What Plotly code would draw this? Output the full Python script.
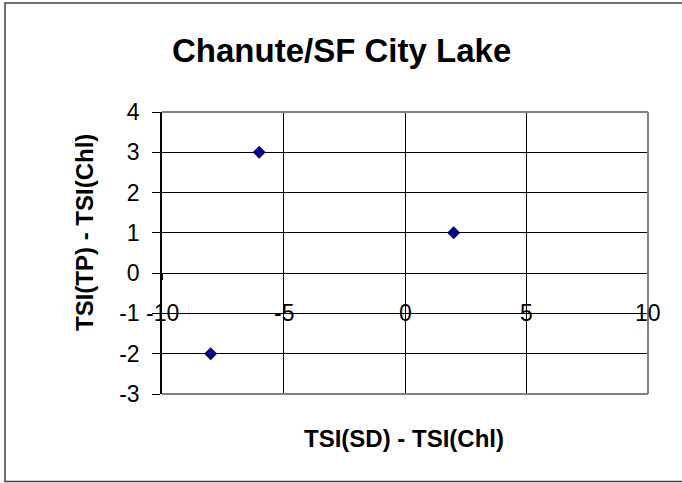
import plotly.graph_objects as go

# Data
x_vals = [-8, -6, 2]
y_vals = [-2, 3, 1]
x_ticks = [-10, -5, 0, 5, 10]
y_ticks = [-3, -2, -1, 0, 1, 2, 3, 4]
title_text = "Chanute/SF City Lake"
x_title = "TSI(SD) - TSI(Chl)"
y_title = "TSI(TP) - TSI(Chl)"
x_label_row = -1  # y value at which x tick labels are printed

W, H = 682, 483
L, R, T, B = 162, 34, 112, 89
PW, PH = W - L - R, H - T - B


def px(xp):
    return (xp - L) / PW


def py(yp):
    return (H - B - yp) / PH


FONT = "Liberation Sans, Arial, sans-serif"
TICK_SIZE = 23

fig = go.Figure()
fig.add_trace(go.Scatter(
    x=x_vals, y=y_vals, mode="markers",
    marker=dict(symbol="diamond", size=10, color="#000080", line=dict(width=0)),
    showlegend=False, hoverinfo="x+y",
))

fig.update_layout(
    width=W, height=H,
    margin=dict(l=L, r=R, t=T, b=B),
    paper_bgcolor="white", plot_bgcolor="white",
    font=dict(family=FONT, color="black"),
    showlegend=False,
    xaxis=dict(
        range=[-10, 10], tickvals=x_ticks, showticklabels=False,
        showgrid=True, gridcolor="black", gridwidth=1,
        zeroline=False, showline=True, linecolor="black", linewidth=1,
        ticks="outside", ticklen=6, tickcolor="black",
        anchor="free", position=3 / 7,
    ),
    yaxis=dict(
        range=[-3, 4], tickvals=y_ticks, ticktext=[str(v) for v in y_ticks],
        showgrid=True, gridcolor="black", gridwidth=1,
        zeroline=False, showline=True, linecolor="black", linewidth=1.5,
        ticks="outside", ticklen=8, tickcolor="black",
        ticklabelstandoff=8,
        tickfont=dict(size=TICK_SIZE, family=FONT, color="black"),
    ),
)

annotations = []
for v in x_ticks:
    annotations.append(dict(
        x=v, y=x_label_row, xref="x", yref="y", text=str(v), showarrow=False,
        xanchor="center", yanchor="middle",
        font=dict(size=TICK_SIZE, family=FONT, color="black"),
    ))
annotations.append(dict(
    x=px(341), y=py(50), xref="paper", yref="paper", text="<b>" + title_text + "</b>",
    showarrow=False, xanchor="center", yanchor="middle",
    font=dict(size=33, family=FONT, color="black"),
))
annotations.append(dict(
    x=px(404), y=py(438), xref="paper", yref="paper", text="<b>" + x_title + "</b>",
    showarrow=False, xanchor="center", yanchor="middle",
    font=dict(size=24, family=FONT, color="black"),
))
annotations.append(dict(
    x=px(84), y=py(233), xref="paper", yref="paper", text="<b>" + y_title + "</b>",
    showarrow=False, xanchor="center", yanchor="middle", textangle=-90,
    font=dict(size=24, family=FONT, color="black"),
))
fig.update_layout(annotations=annotations)

gray = "#808080"
shapes = [
    # plot-area border (top, right, bottom)
    dict(type="line", xref="paper", yref="paper", x0=0, x1=1, y0=1, y1=1,
         line=dict(color=gray, width=2)),
    dict(type="line", xref="paper", yref="paper", x0=1, x1=1, y0=0, y1=1,
         line=dict(color=gray, width=2)),
    dict(type="line", xref="paper", yref="paper", x0=0, x1=1, y0=0, y1=0,
         line=dict(color=gray, width=2)),
    # outer chart border
    dict(type="rect", xref="paper", yref="paper",
         x0=px(5), x1=px(700), y0=py(481.5), y1=py(3),
         line=dict(color="#404040", width=1.5), fillcolor="rgba(0,0,0,0)"),
]
fig.update_layout(shapes=shapes)

fig.write_html(
    "out.html",
    config={"displayModeBar": False},
    post_script="document.body.style.margin='0px';document.body.style.overflow='hidden';",
)
